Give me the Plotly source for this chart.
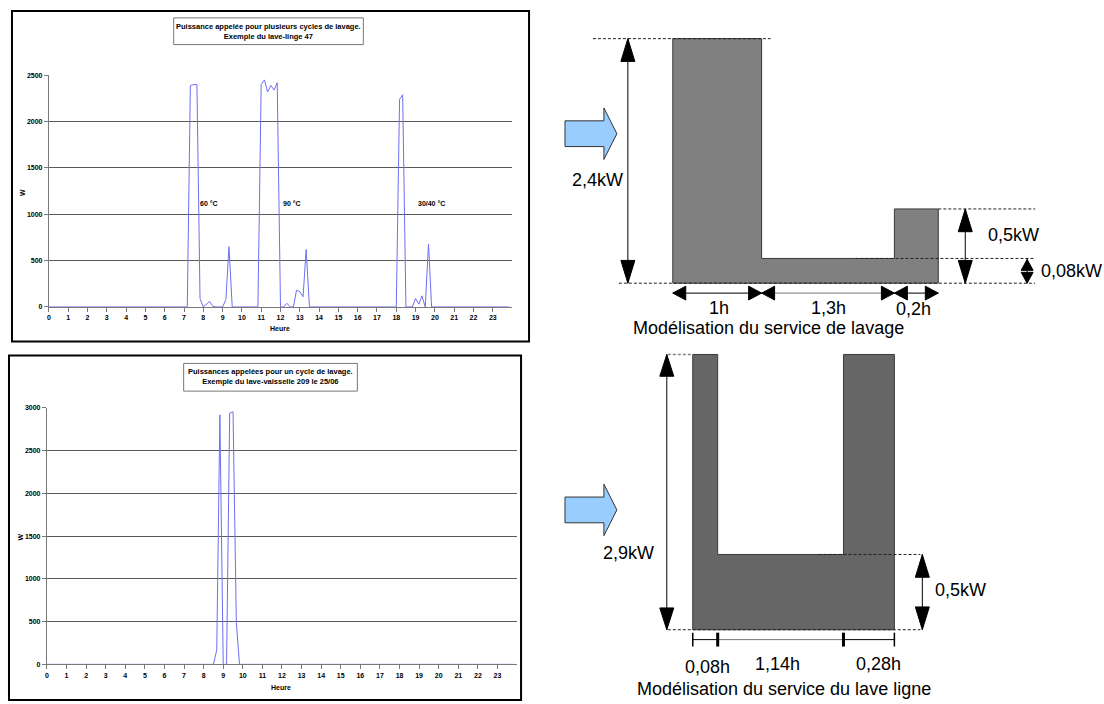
import plotly.graph_objects as go

W, H = 1104, 704

# ---------------- data ----------------
# lave-linge 47 : puissance appelée (W) vs heure
lave_linge_h = [0, 7.17, 7.33, 7.5, 7.67, 7.83, 8.0, 8.33, 8.5, 8.67, 9.0, 9.17, 9.33, 9.5,
                10.83, 11.0, 11.17, 11.33, 11.5, 11.67, 11.83, 12.0, 12.17, 12.33, 12.5, 12.67,
                12.83, 13.0, 13.17, 13.33, 13.5,
                18.0, 18.17, 18.33, 18.5, 18.83, 19.0, 19.17, 19.33, 19.5, 19.67, 19.83, 23.83]
lave_linge_w = [0, 0, 2390, 2400, 2400, 90, 0, 60, 5, 0, 0, 80, 650, 0,
                0, 2400, 2450, 2320, 2390, 2340, 2420, 0, 0, 40, 0, 0,
                180, 165, 110, 620, 0,
                0, 2240, 2290, 0, 0, 90, 30, 120, 0, 680, 0, 0]
cycle_labels = ["60 °C", "90 °C", "30/40 °C"]
cycle_label_h = [8.27, 12.6, 19.85]
cycle_label_w = [1120, 1120, 1120]

# lave-vaisselle 209 le 25/06
lave_vaisselle_h = [0, 8.5, 8.67, 8.83, 9.0, 9.17, 9.33, 9.5, 9.67, 9.83, 23.83]
lave_vaisselle_w = [0, 0, 170, 2920, 0, 0, 2940, 2955, 490, 0, 0]

hours = list(range(24))

# schematic models (labels of the right-hand drawings)
lavage_durees = ["1h", "1,3h", "0,2h"]
lavage_puissances = ["2,4kW", "0,5kW", "0,08kW"]
ligne_durees = ["0,08h", "1,14h", "0,28h"]
ligne_puissances = ["2,9kW", "0,5kW"]

# drawn geometry of the schematics (not to scale, as in the original drawing)
lav_x = [672, 761, 894, 938]          # segment edges
lav_top, lav_small, lav_band, lav_base = 35, 207, 257, 282
lig_x = [692, 717, 843, 894]
lig_top, lig_band, lig_base = 354, 556, 632

FONT = "Liberation Sans, Arial, sans-serif"
LINE_BLUE = "#6f6ff2"


def px(x):
    return x / W


def py(y):
    return 1 - y / H


fig = go.Figure()

# ---------------- left charts ----------------
fig.add_trace(go.Scatter(x=lave_linge_h, y=lave_linge_w, mode="lines",
                         line=dict(color=LINE_BLUE, width=1), xaxis="x", yaxis="y",
                         showlegend=False))
fig.add_trace(go.Scatter(x=lave_vaisselle_h, y=lave_vaisselle_w, mode="lines",
                         line=dict(color=LINE_BLUE, width=1), xaxis="x2", yaxis="y2",
                         showlegend=False))

tick_font = dict(family=FONT, size=7, color="black", weight="bold")
xcommon = dict(range=[0, 24], tickvals=hours, showgrid=False, showline=True,
               linecolor="#7a7a7a", linewidth=1, ticks="outside", ticklen=4,
               tickcolor="#7a7a7a", tickfont=tick_font, zeroline=False, fixedrange=True)
ycommon = dict(showgrid=True, gridcolor="#5a5a5a", gridwidth=1, showline=True,
               linecolor="#7a7a7a", linewidth=1, ticks="outside", ticklen=4,
               tickcolor="#7a7a7a", tickfont=tick_font, zeroline=False, fixedrange=True)

fig.update_layout(
    xaxis=dict(domain=[px(47), px(511)], anchor="y", **xcommon),
    yaxis=dict(domain=[py(306), py(72)], anchor="x", range=[0, 2500],
               tickvals=[0, 500, 1000, 1500, 2000, 2500], **ycommon),
    xaxis2=dict(domain=[px(45), px(516)], anchor="y2", **xcommon),
    yaxis2=dict(domain=[py(667), py(408)], anchor="x2", range=[0, 3000],
                tickvals=[0, 500, 1000, 1500, 2000, 2500, 3000], **ycommon),
    xaxis3=dict(domain=[px(552), 1], range=[552, 1104], visible=False, fixedrange=True),
    yaxis3=dict(domain=[0, 1], range=[704, 0], visible=False, fixedrange=True, anchor="x3"),
)

shapes = []
annotations = []

# chart frames and title boxes
shapes.append(dict(type="rect", xref="paper", yref="paper", x0=px(10), x1=px(528),
                   y0=py(341), y1=py(7), line=dict(color="black", width=2)))
shapes.append(dict(type="rect", xref="paper", yref="paper", x0=px(7), x1=px(520),
                   y0=py(703), y1=py(355), line=dict(color="black", width=2)))
shapes.append(dict(type="rect", xref="paper", yref="paper", x0=px(172), x1=px(362),
                   y0=py(41), y1=py(14), line=dict(color="#777777", width=1)))
shapes.append(dict(type="rect", xref="paper", yref="paper", x0=px(182), x1=px(356),
                   y0=py(391), y1=py(363), line=dict(color="#777777", width=1)))

small_bold = dict(family=FONT, size=7.5, color="black", weight="bold")
annotations.append(dict(xref="paper", yref="paper", x=px(267), y=py(27.5), showarrow=False,
                        xanchor="center", yanchor="middle",
                        text="Puissance appelée pour plusieurs cycles de lavage.<br>Exemple du lave-linge 47",
                        font=small_bold, align="center"))
annotations.append(dict(xref="paper", yref="paper", x=px(269), y=py(376.5), showarrow=False,
                        xanchor="center", yanchor="middle",
                        text="Puissances appelées pour un cycle de lavage.<br>Exemple du lave-vaisselle 209 le 25/06",
                        font=small_bold, align="center"))

axis_title = dict(family=FONT, size=7, color="black", weight="bold")
for (x, y, t, ang) in [(20, 190, "W", -90), (279, 328, "Heure", 0),
                       (19, 538, "W", -90), (280, 690, "Heure", 0)]:
    annotations.append(dict(xref="paper", yref="paper", x=px(x), y=py(y), text=t,
                            xanchor="center", yanchor="middle",
                            textangle=ang, showarrow=False, font=axis_title))

for lab, hx, wy in zip(cycle_labels, cycle_label_h, cycle_label_w):
    annotations.append(dict(xref="x", yref="y", x=hx, y=wy, text=lab, showarrow=False,
                            xanchor="center", yanchor="middle",
                            font=dict(family=FONT, size=7, color="black", weight="bold")))

# ---------------- right schematics ----------------
heads_x, heads_y = [], []


def vhead(x, ytip, d, L=23, w=7):
    b = ytip + L * d
    heads_x.extend([x - w, x, x + w, x - w, None])
    heads_y.extend([b, ytip, b, b, None])


def hhead(xtip, y, d, L=13, w=7):
    b = xtip + L * d
    heads_x.extend([b, xtip, b, b, None])
    heads_y.extend([y - w, y, y + w, y - w, None])


def poly(xs, ys, fill, line="#3a3a3a"):
    fig.add_trace(go.Scatter(x=xs, y=ys, fill="toself", fillcolor=fill, mode="lines",
                             line=dict(color=line, width=1), xaxis="x3", yaxis="y3",
                             hoverinfo="skip", showlegend=False))


def lines(segs, color="black", width=1, dash=None):
    xs, ys = [], []
    for (x0, y0, x1, y1) in segs:
        xs += [x0, x1, None]
        ys += [y0, y1, None]
    fig.add_trace(go.Scatter(x=xs, y=ys, mode="lines",
                             line=dict(color=color, width=width, dash=dash),
                             xaxis="x3", yaxis="y3", hoverinfo="skip", showlegend=False))


# upper model : lave-linge
a, b, c, d = lav_x
poly([a, a, b, b, c, c, d, d, a], [lav_base, lav_top, lav_top, lav_band, lav_band,
                                   lav_small, lav_small, lav_base, lav_base], "#808080")
# lower model : lave-vaisselle
a2, b2, c2, d2 = lig_x
poly([a2, a2, b2, b2, c2, c2, d2, d2, a2], [lig_base, lig_top, lig_top, lig_band, lig_band,
                                          lig_top, lig_top, lig_base, lig_base], "#666666")

dash = "3px,2px"
lines([(592, lav_top, 770, lav_top), (618, lav_base, 1035, lav_base),
       (855, lav_band, 1035, lav_band), (d, lav_small, 1035, lav_small),
       (818, lig_band, 920, lig_band), (667, lig_base, 920, lig_base)],
      color="#222222", width=1, dash=dash)
lines([(667, lig_top, a2, lig_top)], color="#888888", width=1.5, dash=dash)

# arrow shafts
lines([(627, lav_top, 627, lav_base), (965, lav_small, 965, lav_base),
       (1027, lav_band, 1027, lav_base), (a, 292, b, 292), (c, 292, d, 292),
       (666, lig_top, 666, lig_base), (922, lig_band, 922, lig_base),
       (a2, 642, b2, 642), (c2, 642, d2, 642)], color="black", width=1)
lines([(b, 292, c, 292), (b2, 642, c2, 642)], color="#777777", width=1)
# dimension ticks of the lower model
lines([(a2, 635, a2, 649), (d2, 635, d2, 649)], color="black", width=1.5)
lines([(b2, 635, b2, 649), (c2, 635, c2, 649)], color="black", width=3)

vhead(627, lav_top, 1)
vhead(627, lav_base, -1)
vhead(965, lav_small, 1)
vhead(965, lav_base, -1)
vhead(1027, lav_band + 1, 1, L=11, w=6)
vhead(1027, lav_base, -1, L=11, w=6)
for x0, x1 in [(a, b), (b, c), (c, d)]:
    hhead(x0, 292, 1)
    hhead(x1, 292, -1)
vhead(666, lig_top, 1, L=22)
vhead(666, lig_base, -1, L=22)
vhead(922, lig_band, 1)
vhead(922, lig_base, -1)
fig.add_trace(go.Scatter(x=heads_x, y=heads_y, fill="toself", fillcolor="black", mode="lines",
                         line=dict(color="black", width=1), xaxis="x3", yaxis="y3",
                         hoverinfo="skip", showlegend=False))

# blue arrows
for yc in [131, 511]:
    poly([564, 603, 603, 616, 603, 603, 564, 564],
         [yc - 13, yc - 13, yc - 26, yc, yc + 26, yc + 13, yc + 13, yc - 13],
         "#99ccff", line="#333333")

lab_font = dict(family=FONT, size=18, color="black")
labels = [
    (597, 178, lavage_puissances[0], "center"),
    (1013, 233, lavage_puissances[1], "center"),
    (1039, 270, lavage_puissances[2], "left"),
    (718, 307, lavage_durees[0], "center"),
    (828, 307, lavage_durees[1], "center"),
    (913, 308, lavage_durees[2], "center"),
    (768, 327, "Modélisation du service de lavage", "center"),
    (628, 555, ligne_puissances[0], "center"),
    (960, 592, ligne_puissances[1], "center"),
    (707, 670, ligne_durees[0], "center"),
    (777, 667, ligne_durees[1], "center"),
    (878, 667, ligne_durees[2], "center"),
    (783, 692, "Modélisation du service du lave ligne", "center"),
]
for x, y, t, anc in labels:
    annotations.append(dict(xref="x3", yref="y3", x=x, y=y, text=t, showarrow=False,
                            xanchor=anc, yanchor="middle", font=lab_font))

fig.update_layout(
    width=W, height=H, margin=dict(l=0, r=0, t=0, b=0),
    paper_bgcolor="white", plot_bgcolor="white",
    shapes=shapes, annotations=annotations, showlegend=False,
)

fig.write_html("out.html", config={"displayModeBar": False},
               post_script="document.body.style.margin='0';")
